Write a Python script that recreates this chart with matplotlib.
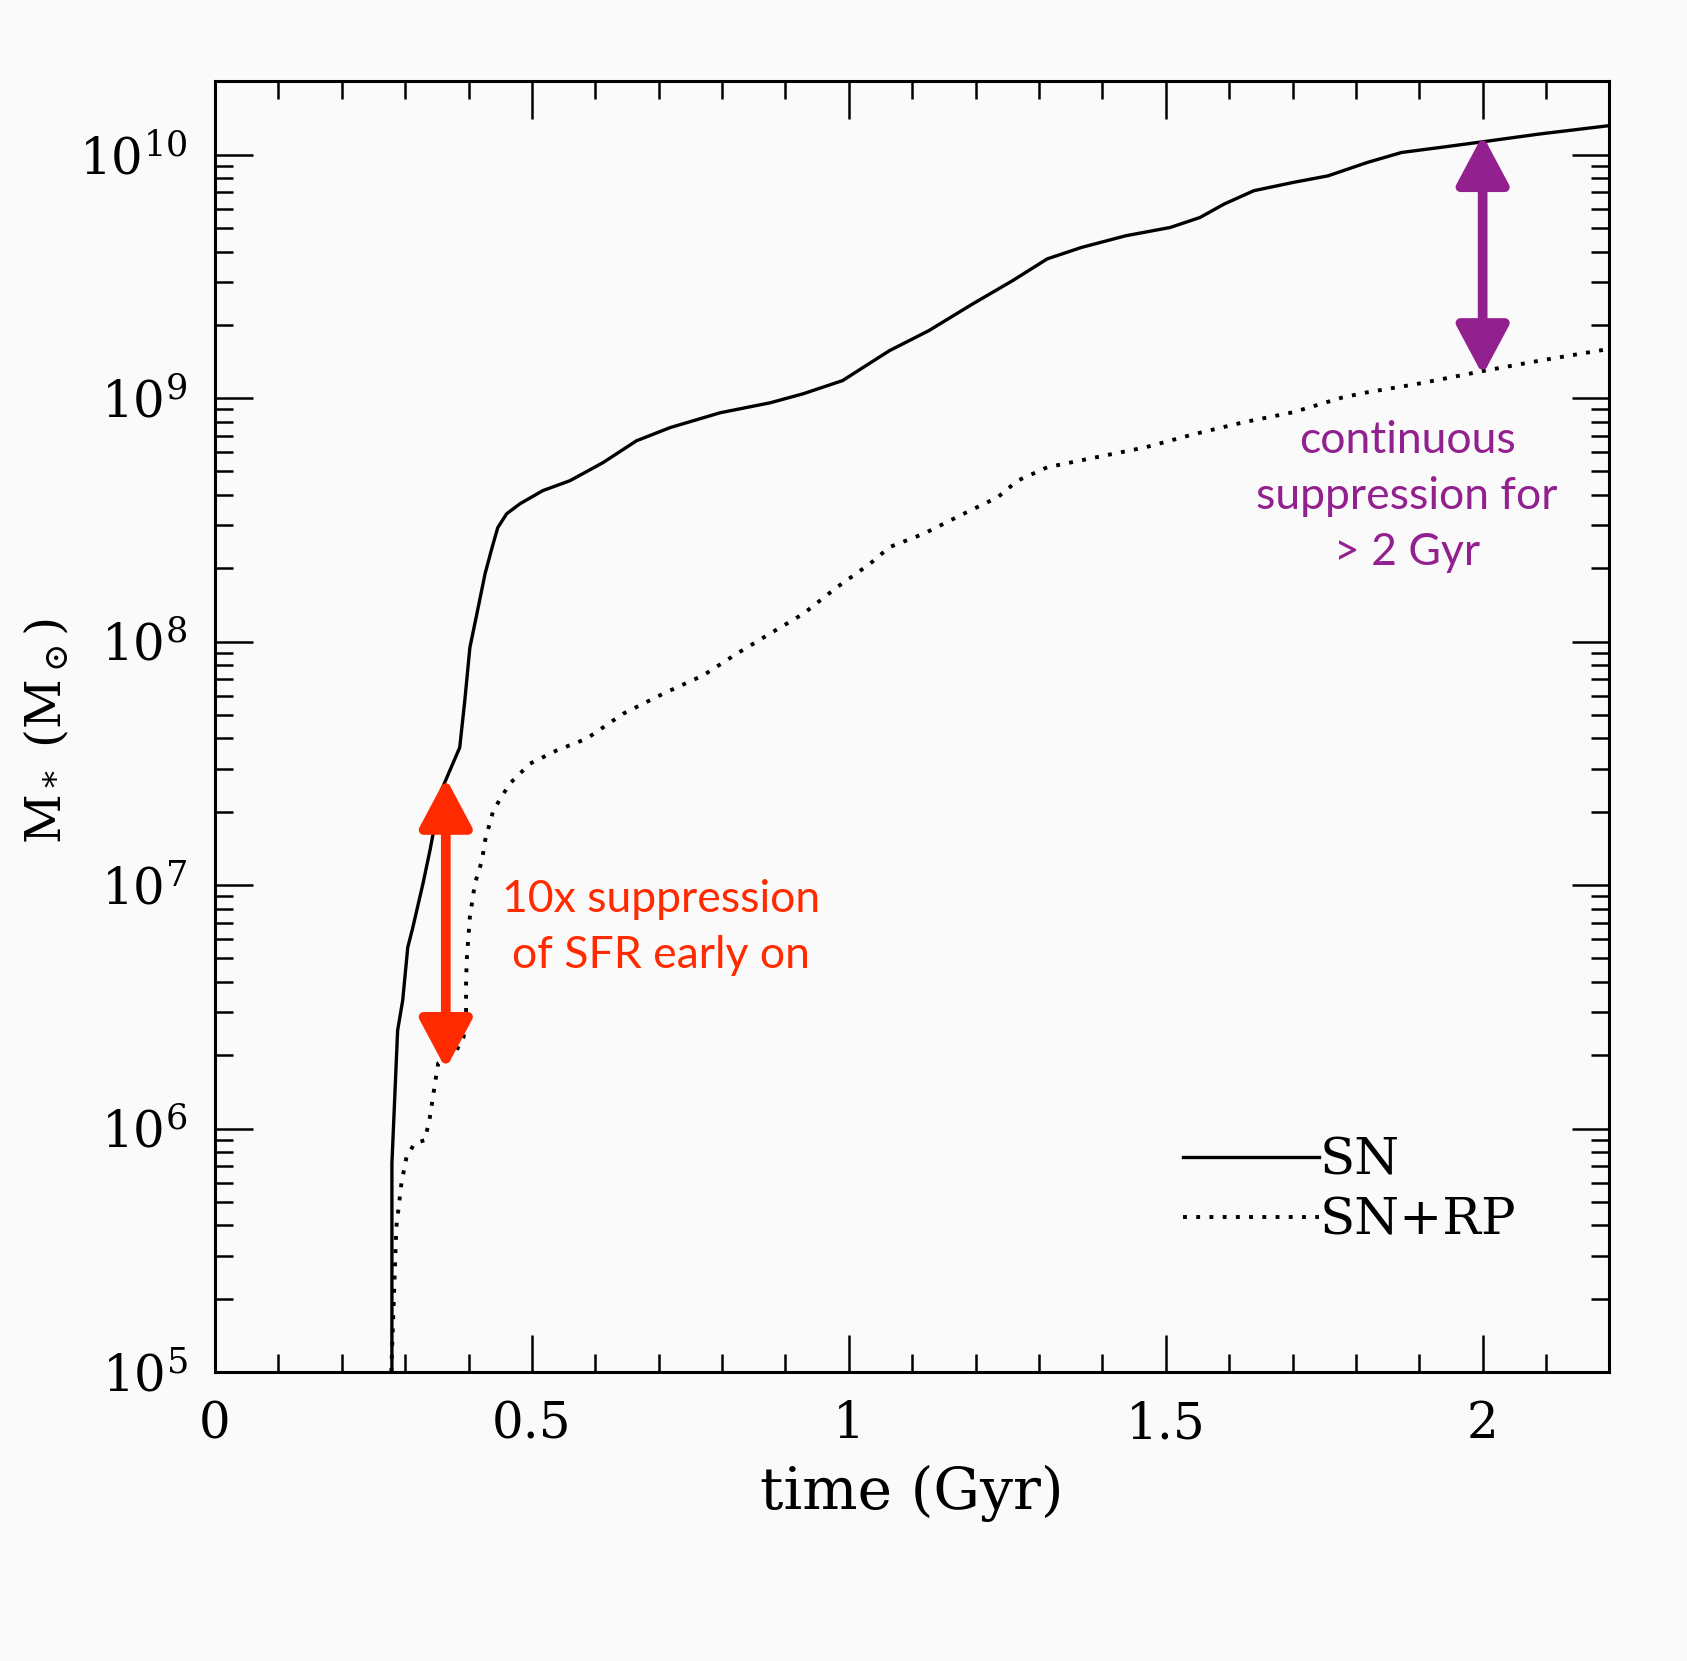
import numpy as np
import matplotlib
matplotlib.use("Agg")
import matplotlib.pyplot as plt
from matplotlib.ticker import MultipleLocator, LogLocator, NullFormatter

plt.rcParams['font.family'] = ['DejaVu Serif']
plt.rcParams['mathtext.fontset'] = 'dejavuserif'

# time (Gyr) and log10 stellar mass
sn_t = [0.279, 0.279, 0.288, 0.296, 0.304, 0.312, 0.328, 0.339, 0.357, 0.386,
        0.394, 0.402, 0.415, 0.426, 0.437, 0.446, 0.460, 0.481, 0.517, 0.560,
        0.612, 0.665, 0.718, 0.797, 0.876, 0.928, 0.990, 1.064, 1.126, 1.196,
        1.258, 1.313, 1.367, 1.437, 1.507, 1.554, 1.592, 1.639, 1.701, 1.756,
        1.818, 1.872, 1.934, 2.003, 2.090, 2.199]
sn_logm = [5.0, 5.857, 6.403, 6.526, 6.744, 6.826, 7.006, 7.142, 7.389, 7.565,
           7.758, 7.975, 8.139, 8.279, 8.386, 8.468, 8.525, 8.566, 8.620, 8.661,
           8.735, 8.825, 8.879, 8.940, 8.981, 9.018, 9.072, 9.195, 9.277, 9.388,
           9.482, 9.572, 9.619, 9.667, 9.701, 9.742, 9.797, 9.852, 9.886, 9.913,
           9.968, 10.009, 10.030, 10.054, 10.085, 10.119]

rp_t = [0.278, 0.286, 0.294, 0.302, 0.315, 0.331, 0.339, 0.347, 0.352, 0.365,
        0.381, 0.392, 0.396, 0.396, 0.397, 0.402, 0.410, 0.421, 0.426, 0.439,
        0.465, 0.497, 0.539, 0.586, 0.644, 0.707, 0.770, 0.823, 0.875, 0.928,
        0.981, 1.033, 1.064, 1.118, 1.181, 1.235, 1.266, 1.313, 1.390, 1.468,
        1.546, 1.623, 1.701, 1.779, 1.818, 1.896, 2.004, 2.090, 2.199]
rp_logm = [5.0, 5.596, 5.775, 5.883, 5.940, 5.952, 6.048, 6.186, 6.268, 6.289,
           6.321, 6.376, 6.458, 6.596, 6.691, 6.869, 7.007, 7.100, 7.183, 7.307,
           7.417, 7.499, 7.553, 7.601, 7.704, 7.786, 7.861, 7.950, 8.032, 8.114,
           8.223, 8.319, 8.388, 8.443, 8.525, 8.593, 8.661, 8.716, 8.757, 8.798,
           8.853, 8.901, 8.942, 9.003, 9.024, 9.058, 9.113, 9.154, 9.202]

# annotation arrows: (time, top mass, bottom mass)
red_arrow = (0.364, 10**7.44, 10**6.245)
purple_arrow = (2.0, 10**10.08, 10**9.095)

red = '#ff2a00'
purple = '#93208f'
bg = '#fafafa'

fig = plt.figure(figsize=(16.87, 16.61), dpi=100, facecolor=bg)
ax = fig.add_axes([0.1275, 0.174, 0.8265, 0.777], facecolor=bg)

ax.plot(sn_t, 10**np.array(sn_logm), color='k', lw=2.4, label='SN')
ax.plot(rp_t, 10**np.array(rp_logm), color='k', lw=2.8,
        linestyle=(0, (1.0, 2.4)), label='SN+RP')

ax.set_yscale('log')
ax.set_xlim(0, 2.2)
ax.set_ylim(1e5, 2e10)

ax.xaxis.set_major_locator(MultipleLocator(0.5))
ax.xaxis.set_minor_locator(MultipleLocator(0.1))
ax.xaxis.set_major_formatter(plt.FuncFormatter(lambda v, p: '%g' % v))
ax.yaxis.set_major_locator(LogLocator(base=10, numticks=20))
ax.yaxis.set_minor_locator(LogLocator(base=10, subs=np.arange(2, 10), numticks=20))
ax.yaxis.set_minor_formatter(NullFormatter())

ax.tick_params(which='both', direction='in', top=True, right=True, width=1.8)
ax.tick_params(which='major', length=27, labelsize=36, pad=20)
ax.tick_params(which='minor', length=13)
for s in ax.spines.values():
    s.set_linewidth(2.2)

ax.set_xlabel('time (Gyr)', fontsize=42)
ax.set_ylabel(r'M$_*$ (M$_\odot$)', fontsize=35)
ax.xaxis.set_label_coords(0.5, -0.072)
ax.yaxis.set_label_coords(-0.103, 0.497)

leg = ax.legend(loc='lower right', bbox_to_anchor=(0.933, 0.098), frameon=False,
                fontsize=37, handlelength=2.65, handletextpad=0.0,
                labelspacing=0.2, borderpad=0, borderaxespad=0)

for (xa, ytop, ybot), c in [(red_arrow, red), (purple_arrow, purple)]:
    ax.annotate('', xy=(xa, ytop), xytext=(xa, ybot),
                arrowprops=dict(arrowstyle='<|-|>,head_length=30,head_width=16',
                                mutation_scale=1, color=c, lw=7,
                                shrinkA=0, shrinkB=0))

ax.text(0.703, 10**6.824, '10x suppression\nof SFR early on', color=red,
        fontsize=32, family='Lato', ha='center', va='center', linespacing=1.45)
ax.text(1.881, 10**8.595, 'continuous\nsuppression for\n> 2 Gyr', color=purple,
        fontsize=32, family='Lato', ha='center', va='center', linespacing=1.45)

fig.savefig('out.png', dpi=100, facecolor=bg)
